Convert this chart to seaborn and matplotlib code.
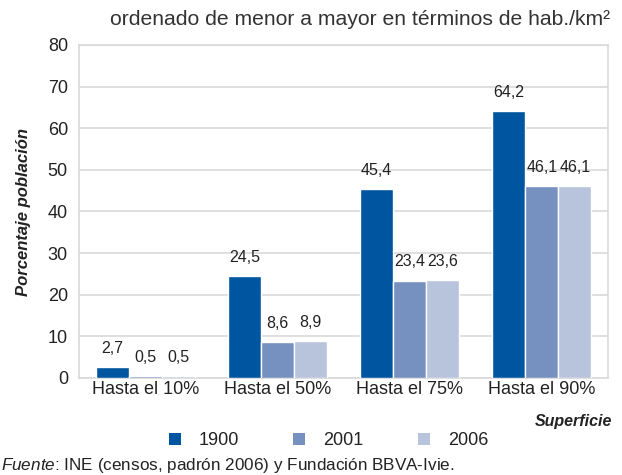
import matplotlib
matplotlib.use("Agg")
import matplotlib.pyplot as plt
import seaborn as sns
import pandas as pd
from matplotlib.patches import Patch

categories = ["Hasta el 10%", "Hasta el 50%", "Hasta el 75%", "Hasta el 90%"]
years = ["1900", "2001", "2006"]
v1900 = [2.7, 24.5, 45.4, 64.2]
v2001 = [0.5, 8.6, 23.4, 46.1]
v2006 = [0.5, 8.9, 23.6, 46.1]
colors = ["#0055A0", "#7690C0", "#B7C4DC"]

rows = []
for y, vals in zip(years, [v1900, v2001, v2006]):
    for c, v in zip(categories, vals):
        rows.append({"cat": c, "year": y, "val": v})
df = pd.DataFrame(rows)

sns.set_theme(style="white")
plt.rcParams["font.family"] = ["Liberation Sans", "DejaVu Sans"]
plt.rcParams["mathtext.fontset"] = "custom"
plt.rcParams["mathtext.rm"] = "Liberation Sans"
plt.rcParams["mathtext.it"] = "Liberation Sans:italic"

fig = plt.figure(figsize=(6.22, 4.75), dpi=100)
ax = fig.add_axes([79 / 622, 1 - 378 / 475, (608 - 79) / 622, (378 - 45) / 475])
sns.barplot(data=df, x="cat", y="val", hue="year", palette=colors,
            width=0.75, saturation=1, ax=ax, legend=False, errorbar=None,
            zorder=3)

ax.set_ylim(0, 80)
ax.set_yticks(range(0, 81, 10))
ax.yaxis.grid(True, color="#D9D9D9", linewidth=1.2, zorder=0)
ax.set_axisbelow(True)
for s in ax.spines.values():
    s.set_color("#D9D9D9")
    s.set_linewidth(1.2)
    s.set_zorder(1)
ax.tick_params(axis="both", length=0, labelsize=13, colors="#222222")
ax.tick_params(axis="y", pad=8)
ax.tick_params(axis="x", pad=2)
ax.set_xlabel("")
ax.set_ylabel("Porcentaje población", fontsize=12, fontweight="bold",
              fontstyle="italic", color="#222222")
ax.yaxis.set_label_coords(-0.09, 0.5)

for cont in ax.containers:
    labels = [f"{b.get_height():.1f}".replace(".", ",") for b in cont]
    ax.bar_label(cont, labels=labels, padding=8, fontsize=11.5, color="#222222")

fig.text(0.981, 0.958, "ordenado de menor a mayor en términos de hab./km²",
         ha="right", va="center", fontsize=15.2, color="#333333")
fig.text(0.984, 0.113, "Superficie", ha="right", va="center", fontsize=11.5,
         fontweight="bold", fontstyle="italic", color="#222222")

handles = [Patch(facecolor=c, edgecolor="none") for c in colors]
fig.legend(handles, years, loc="center", bbox_to_anchor=(0.528, 0.0716), ncol=3,
           frameon=False, fontsize=13, handlelength=0.67, handleheight=0.67,
           columnspacing=3.0, handletextpad=1.0, labelcolor="#222222")

fig.text(0.002, 0.019, "$\\it{Fuente}$: INE (censos, padrón 2006) y Fundación BBVA-Ivie.",
         ha="left", va="center", fontsize=12.3, color="#222222")

fig.savefig("out.png", dpi=100)
